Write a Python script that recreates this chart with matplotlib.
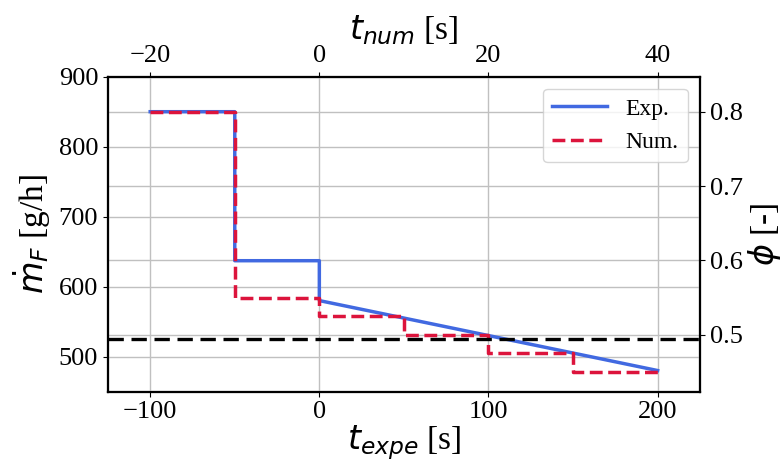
import matplotlib
matplotlib.use("Agg")
import matplotlib.pyplot as plt
import numpy as np

# Data
t_exp = [-100, -50, -50, 0, 0, 200]
mdot_exp = [850, 850, 637, 637, 580, 480]
t_num_steps = [-100, -50, 0, 50, 100, 150, 200]
phi_num = [0.8, 0.55, 0.525, 0.5, 0.475, 0.45, 0.45]
phi_ref = 525  # g/h, black dashed
conv = 1062.5  # g/h per unit phi

plt.rcParams['font.family'] = ['Liberation Serif', 'DejaVu Sans']
plt.rcParams['mathtext.fontset'] = 'dejavusans'

fig = plt.figure(figsize=(7.82, 4.65), dpi=100)
ax = fig.add_axes([0.138, 0.158, 0.757, 0.677])
ax2 = ax.twinx()
ax3 = ax.twiny()
ax.set_zorder(3)
ax.patch.set_visible(False)

mdot_num = [p * conv for p in phi_num]
ax.plot(t_exp, mdot_exp, color='#4169E1', lw=2.5, label='Exp.')
ax.step(t_num_steps, mdot_num, where='post', color='#DC143C', lw=2.5, ls='--', label='Num.')
ax.axhline(phi_ref, color='black', lw=2.4, ls='--', dashes=(4.6, 2.3))

ax.set_xlim(-125, 225)
ax.set_ylim(450, 900)
ax.set_xticks([-100, 0, 100, 200])
ax.set_yticks([500, 600, 700, 800, 900])
ax.grid(True, color='#c0c0c0', lw=1.0)
ax2.set_ylim(450 / conv, 900 / conv)
ax2.set_yticks([0.5, 0.6, 0.7, 0.8])
ax2.grid(True, axis='y', color='#c0c0c0', lw=1.0)
ax3.set_xlim(-25, 45)
ax3.set_xticks([-20, 0, 20, 40])

for a in (ax, ax2, ax3):
    a.tick_params(labelsize=19)
    for s in a.spines.values():
        s.set_linewidth(1.5)

ax.set_xlabel(r'$t_{expe}$ [s]', fontsize=24, labelpad=0)
ax.set_ylabel(r'$\dot{m}_F$ [g/h]', fontsize=24, labelpad=4)
ax3.set_xlabel(r'$t_{num}$ [s]', fontsize=24, labelpad=4)
ax2.set_ylabel(r'$\phi$ [-]', fontsize=24, labelpad=2.5)

ax.legend(loc='upper right', fontsize=17, handlelength=2.3)

fig.savefig('out.png', dpi=100)
